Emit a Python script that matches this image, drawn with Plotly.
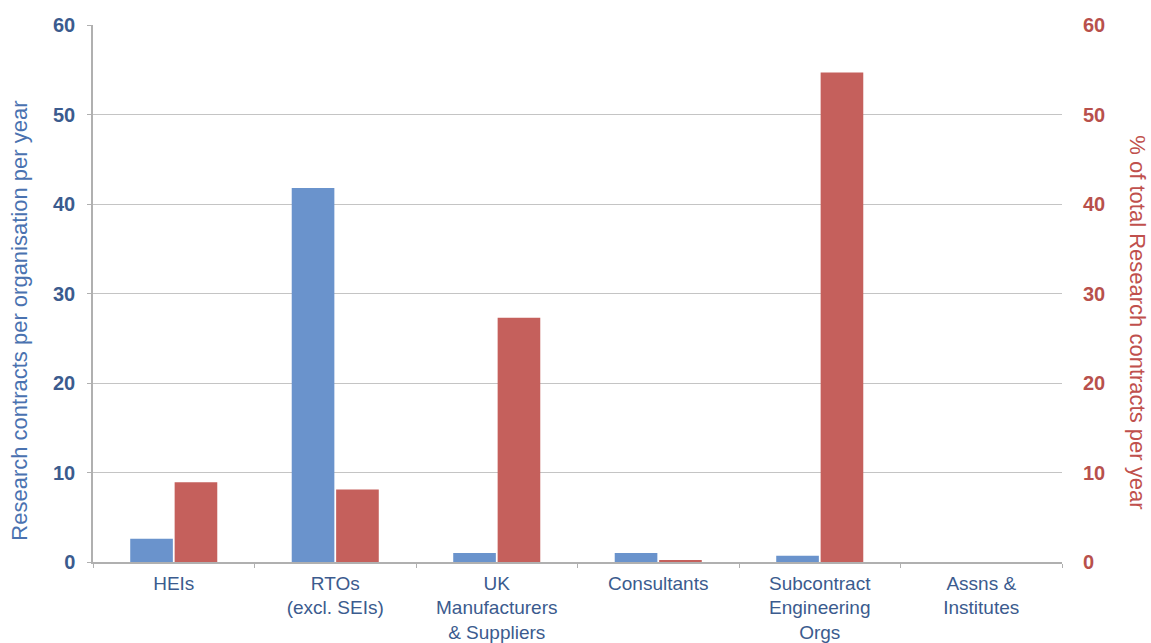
import plotly.graph_objects as go

categories = [
    "HEIs",
    "RTOs<br>(excl. SEIs)",
    "UK<br>Manufacturers<br>& Suppliers",
    "Consultants",
    "Subcontract<br>Engineering<br>Orgs",
    "Assns &<br>Institutes",
]
contracts_per_org = [2.6, 41.8, 1.0, 1.0, 0.7, 0.0]
pct_of_total = [8.9, 8.1, 27.3, 0.2, 54.7, 0.0]
tick_vals = [0, 10, 20, 30, 40, 50, 60]

BLUE = "#6a93cc"
RED = "#c5605c"
BLUE_TEXT = "#3b5b8e"
RED_TEXT = "#b8504c"
FONT = "Liberation Sans, Arial, sans-serif"

fig = go.Figure()
fig.add_trace(go.Bar(
    x=categories, y=contracts_per_org, yaxis="y", offsetgroup="a",
    marker=dict(color=BLUE, line=dict(width=0)), name="Contracts per organisation",
))
fig.add_trace(go.Bar(
    x=categories, y=pct_of_total, yaxis="y2", offsetgroup="b",
    marker=dict(color=RED, line=dict(width=0)), name="% of total",
))

fig.update_layout(
    width=1151, height=643,
    margin=dict(l=93, r=89, t=25, b=81),
    paper_bgcolor="white", plot_bgcolor="white",
    barmode="group", bargap=0.45, bargroupgap=0.04,
    showlegend=False,
    font=dict(family=FONT, size=19, color=BLUE_TEXT),
    xaxis=dict(
        automargin=False,
        showline=True, linecolor="#b0b0b0", linewidth=1.5,
        ticks="outside", tickson="boundaries", ticklen=4, tickcolor="#b0b0b0",
        tickfont=dict(family=FONT, size=19, color=BLUE_TEXT),
        ticklabelstandoff=3,
        showgrid=False,
    ),
    yaxis=dict(
        automargin=False,
        range=[0, 60], tickvals=tick_vals,
        showline=True, linecolor="#b0b0b0", linewidth=1.5,
        ticks="outside", ticklen=4, tickcolor="#b0b0b0",
        showgrid=True, gridcolor="#c4c4c4", gridwidth=1.2,
        zeroline=False,
        tickfont=dict(family=FONT, size=20, color=BLUE_TEXT, weight="bold"),
        ticklabelstandoff=8,
    ),
    yaxis2=dict(
        automargin=False,
        range=[0, 60], tickvals=tick_vals, overlaying="y", side="right",
        showline=False, showgrid=False, zeroline=False,
        ticks="", tickfont=dict(family=FONT, size=20, color=RED_TEXT, weight="bold"),
        ticklabelstandoff=20,
    ),
    annotations=[
        dict(text="Research contracts per organisation per year", xref="paper", yref="paper",
             x=-0.076, y=0.45, xanchor="center", yanchor="middle", textangle=-90,
             showarrow=False, font=dict(family=FONT, size=22, color="#4a72b0")),
        dict(text="% of total Research contracts per year", xref="paper", yref="paper",
             x=1.077, y=0.447, xanchor="center", yanchor="middle", textangle=90,
             showarrow=False, font=dict(family=FONT, size=22, color="#c0504d")),
    ],
)

fig.write_html("out.html")
